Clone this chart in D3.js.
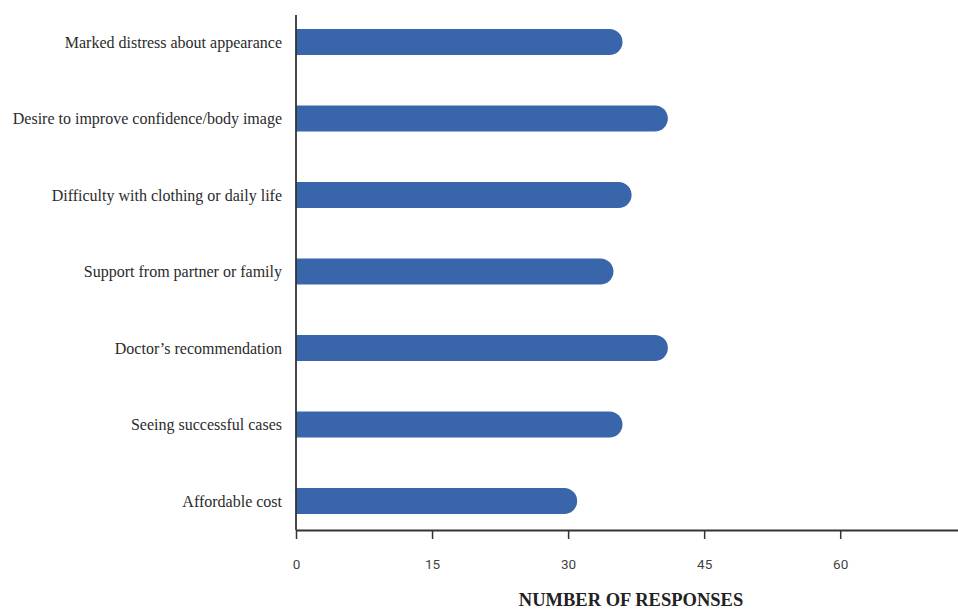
<!DOCTYPE html>
<html>
  <head>
    <meta charset="utf-8" />
    <title>Number of responses</title>
    <script src="https://d3js.org/d3.v7.min.js"></script>
    <style>
      body {
        margin: 0;
        background: #fff;
      }
      .cat text {
        font-family: "Liberation Serif", "Times New Roman", serif;
        font-size: 16px;
        fill: #2b2b2b;
      }
      .xaxis text {
        font-family: Roboto, "Noto Sans", sans-serif;
        font-size: 13.5px;
        fill: #444;
      }
      .title {
        font-family: "Liberation Serif", "Times New Roman", serif;
        font-weight: bold;
        font-size: 18.5px;
        fill: #222;
        text-anchor: middle;
      }
    </style>
  </head>
  <body>
    <svg width="958" height="609"></svg>
    <script>
      const categories = [
        "Marked distress about appearance",
        "Desire to improve confidence/body image",
        "Difficulty with clothing or daily life",
        "Support from partner or family",
        "Doctor\u2019s recommendation",
        "Seeing successful cases",
        "Affordable cost",
      ];
      const responses = [36, 41, 37, 35, 41, 36, 31];
      const xTicks = [0, 15, 30, 45, 60];

      const svg = d3.select("svg");
      const left = 296,
        axisY = 530;

      // x goes past the right edge, the axis line just runs off the page
      const x = d3.scaleLinear().domain([0, 75]).range([left, left + 75 * 9.07]);
      const y = d3
        .scaleBand()
        .domain(categories)
        .range([3.75, 539.25])
        .paddingInner(0.66)
        .paddingOuter(0.33);

      const data = categories.map((c, i) => ({ name: c, value: responses[i] }));

      // bars: flat left, round right end
      svg
        .selectAll(".bar")
        .data(data)
        .enter()
        .append("path")
        .attr("class", "bar")
        .attr("fill", "#3966ab")
        .attr("d", (d) => {
          const h = y.bandwidth(),
            r = h / 2,
            y0 = y(d.name),
            x0 = x(0),
            x1 = x(d.value);
          return `M${x0},${y0} H${x1 - r} A${r},${r} 0 0 1 ${x1 - r},${y0 + h} H${x0} Z`;
        });

      // category labels
      const cat = svg.append("g").attr("class", "cat");
      cat
        .selectAll("text")
        .data(categories)
        .enter()
        .append("text")
        .attr("x", left - 14)
        .attr("y", (d) => y(d) + y.bandwidth() / 2)
        .attr("dy", "0.35em")
        .attr("text-anchor", "end")
        .text((d) => d);

      // y axis line
      svg
        .append("line")
        .attr("x1", left)
        .attr("x2", left)
        .attr("y1", 15)
        .attr("y2", axisY)
        .attr("stroke", "#333")
        .attr("stroke-width", 1.8);

      // x axis
      const xAxis = svg
        .append("g")
        .attr("class", "xaxis")
        .attr("transform", `translate(0,${axisY})`)
        .call(d3.axisBottom(x).tickValues(xTicks).tickSize(9).tickPadding(20).tickSizeOuter(0));
      xAxis.select(".domain").attr("stroke", "#333").attr("stroke-width", 1.8);
      xAxis.selectAll(".tick line").attr("stroke", "#333").attr("stroke-width", 1.5);
      xAxis.selectAll(".tick text").attr("fill", "#444");

      svg
        .append("text")
        .attr("class", "title")
        .attr("x", 631)
        .attr("y", 606)
        .text("NUMBER OF RESPONSES");
    </script>
  </body>
</html>
